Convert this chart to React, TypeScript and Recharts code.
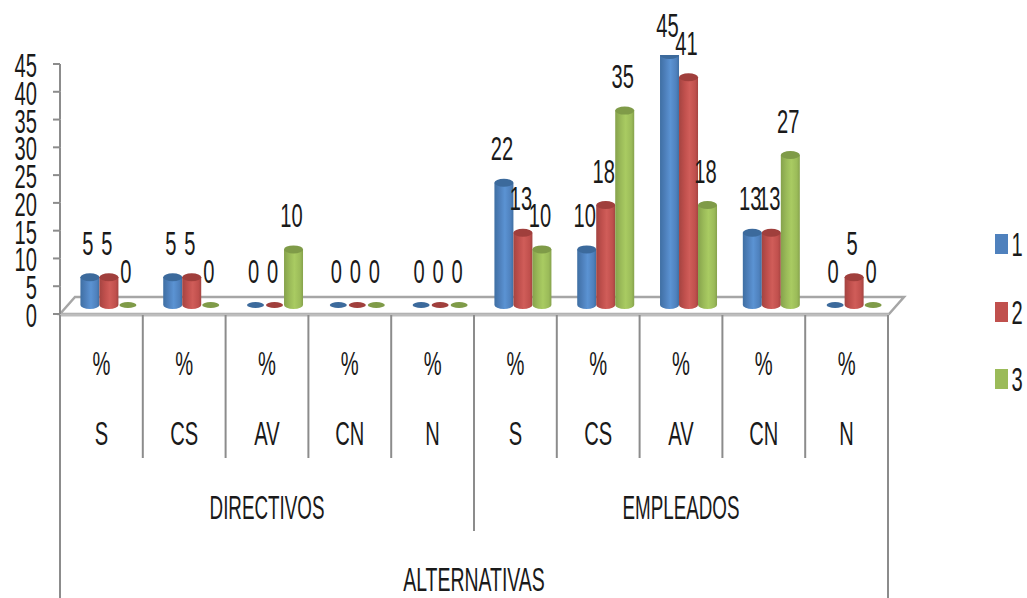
import React from 'react';
import { BarChart, Bar, XAxis, YAxis, Legend, LabelList, Customized } from 'recharts';

const categories = ['S', 'CS', 'AV', 'CN', 'N', 'S', 'CS', 'AV', 'CN', 'N'];
const series1 = [5, 5, 0, 0, 0, 22, 10, 45, 13, 0];
const series2 = [5, 5, 0, 0, 0, 13, 18, 41, 13, 5];
const series3 = [0, 0, 10, 0, 0, 10, 35, 18, 27, 0];
const yTicks = [0, 5, 10, 15, 20, 25, 30, 35, 40, 45];
const groups = [
  { label: 'DIRECTIVOS', start: 0, count: 5 },
  { label: 'EMPLEADOS', start: 5, count: 5 },
];
const outerLabel = 'ALTERNATIVAS';
const seriesNames = ['1', '2', '3'];
const unit = '%';

const GREY = '#8c8c8c';
const BAND = 82.8;
const FONT = '"Liberation Sans Narrow", "Liberation Sans", sans-serif';

const colors: Record<string, { id: string; edge: string; mid: string; light: string; top: string }> = {
  '1': { id: 'cylBlue', edge: '#3f6fa3', mid: '#4f81bd', light: '#5b93d3', top: '#3c6a9c' },
  '2': { id: 'cylRed', edge: '#a44441', mid: '#c0504d', light: '#d05d59', top: '#a03f3c' },
  '3': { id: 'cylGreen', edge: '#86a24c', mid: '#9bbb59', light: '#a9cb62', top: '#7f9b48' },
};

const data = categories.map((c, i) => ({ key: i, cat: c, s1: series1[i], s2: series2[i], s3: series3[i], none: 0 }));

const Txt = ({ x, y, children, size = 33, anchor = 'middle', sx = 0.61 }: any) => (
  <text
    transform={`translate(${x},${y}) scale(${sx},1)`}
    textAnchor={anchor}
    fontFamily={FONT}
    fontSize={size}
    fill="#1a1a1a"
  >
    {children}
  </text>
);

// floor of the fake 3d box, drawn under the bars
const Floor = () => (
  <g fill="none" stroke="#a6a6a6" strokeWidth={2.5}>
    <polygon points="60,314 75,297 904,297 889,314" fill="#ffffff" />
    <line x1={60} y1={315} x2={889} y2={315} stroke="#bdbdbd" strokeWidth={3} />
  </g>
);

const Cylinder = (name: string) => (props: any) => {
  const { x, y, width, height } = props;
  const c = colors[name];
  const rx = width / 2;
  const ry = 4;
  const cx = x + rx;
  if (!height) {
    return <ellipse cx={cx} cy={y} rx={rx - 1} ry={3} fill={c.top} />;
  }
  return (
    <g>
      <path
        d={`M${x},${y} L${x},${y + height} A${rx},${ry} 0 0 0 ${x + width},${y + height} L${x + width},${y} Z`}
        fill={`url(#${c.id})`}
      />
      <ellipse cx={cx} cy={y} rx={rx} ry={ry} fill={c.top} />
    </g>
  );
};

const ValueLabel = (props: any) => {
  const { x, y, width, value } = props;
  return <Txt x={x + width / 2 - 2} y={Math.max(y - 22.5, 37)}>{value}</Txt>;
};

const YTick = ({ y, payload }: any) => (
  <g>
    <line x1={53} y1={y} x2={60} y2={y} stroke={GREY} strokeWidth={2} />
    {payload.value > 0 && <line x1={60} y1={y} x2={60} y2={y + 27.75} stroke={GREY} strokeWidth={2} />}
    <Txt x={37} y={y + 13} anchor="end">{payload.value}</Txt>
  </g>
);

const XTick = ({ x, payload, index }: any) => {
  const left = x - BAND / 2;
  const right = x + BAND / 2;
  const group = groups.find(g => g.start === index);
  const isOuter = index === 0;
  const isMid = index === 5;
  return (
    <g>
      <line x1={left} y1={315} x2={left} y2={isOuter ? 598 : isMid ? 531 : 458} stroke={GREY} strokeWidth={2} />
      {index === categories.length - 1 && <line x1={right} y1={315} x2={right} y2={598} stroke={GREY} strokeWidth={2} />}
      <Txt x={x} y={375}>{unit}</Txt>
      <Txt x={x} y={445}>{payload.value}</Txt>
      {group && <Txt x={left + (BAND * group.count) / 2} y={519} sx={0.57}>{group.label}</Txt>}
      {isOuter && <Txt x={left + (BAND * categories.length) / 2} y={591} sx={0.59}>{outerLabel}</Txt>}
    </g>
  );
};

const LegendBox = () => (
  <div style={{ position: 'relative', width: 33, height: 160 }}>
    {seriesNames.map((n, i) => (
      <div key={n} style={{ position: 'absolute', left: 0, top: i * 67.5, width: 33, height: 24 }}>
        <div style={{ position: 'absolute', left: 0, top: 2, width: 13, height: 20, background: colors[n].mid }} />
        <svg style={{ position: 'absolute', left: 14, top: -4, overflow: 'visible' }} width={20} height={30}>
          <Txt x={8} y={28}>{n}</Txt>
        </svg>
      </div>
    ))}
  </div>
);

const App = () => {
  return (
    <div style={{ position: 'absolute', left: 0, top: 0, width: 1027, height: 598, background: '#fff' }}>
      <BarChart
        width={1027}
        height={598}
        data={data}
        barGap={0}
        barCategoryGap="15%"
        margin={{ top: 55, right: 131, bottom: 0, left: 0 }}
      >
        <defs>
          {Object.values(colors).map(c => (
            <linearGradient key={c.id} id={c.id} x1="0" y1="0" x2="1" y2="0">
              <stop offset="0%" stopColor={c.edge} />
              <stop offset="30%" stopColor={c.mid} />
              <stop offset="55%" stopColor={c.light} />
              <stop offset="85%" stopColor={c.mid} />
              <stop offset="100%" stopColor={c.edge} />
            </linearGradient>
          ))}
        </defs>
        <Customized component={Floor} />
        <XAxis
          xAxisId="main"
          dataKey="key"
          type="category"
          height={284}
          padding={{ left: 0, right: 8 }}
          axisLine={false}
          tickLine={false}
          interval={0}
          tick={(p: any) => <XTick {...p} payload={{ ...p.payload, value: categories[p.payload.value] }} />}
        />
        <XAxis xAxisId="bars" dataKey="key" type="category" hide padding={{ left: 8, right: 0 }} />
        <YAxis
          yAxisId="main"
          type="number"
          width={60}
          domain={[0, 46.62]}
          ticks={yTicks}
          interval={0}
          axisLine={false}
          tickLine={false}
          tick={(p: any) => <YTick {...p} />}
        />
        <YAxis yAxisId="bars" hide domain={[-1.62, 45]} allowDataOverflow />
        {/* keeps the visible value axis attached to a series */}
        <Bar xAxisId="main" yAxisId="main" dataKey="none" fill="none" legendType="none" isAnimationActive={false} />
        <Bar xAxisId="bars" yAxisId="bars" dataKey="s1" name="1" isAnimationActive={false} shape={Cylinder('1')}>
          <LabelList dataKey="s1" content={<ValueLabel />} />
        </Bar>
        <Bar xAxisId="bars" yAxisId="bars" dataKey="s2" name="2" isAnimationActive={false} shape={Cylinder('2')}>
          <LabelList dataKey="s2" content={<ValueLabel />} />
        </Bar>
        <Bar xAxisId="bars" yAxisId="bars" dataKey="s3" name="3" isAnimationActive={false} shape={Cylinder('3')}>
          <LabelList dataKey="s3" content={<ValueLabel />} />
        </Bar>
        <Legend
          layout="vertical"
          align="center"
          verticalAlign="middle"
          content={<LegendBox />}
          wrapperStyle={{ position: 'absolute', left: 995, top: 232, width: 33 }}
        />
      </BarChart>
    </div>
  );
};

export default App;
